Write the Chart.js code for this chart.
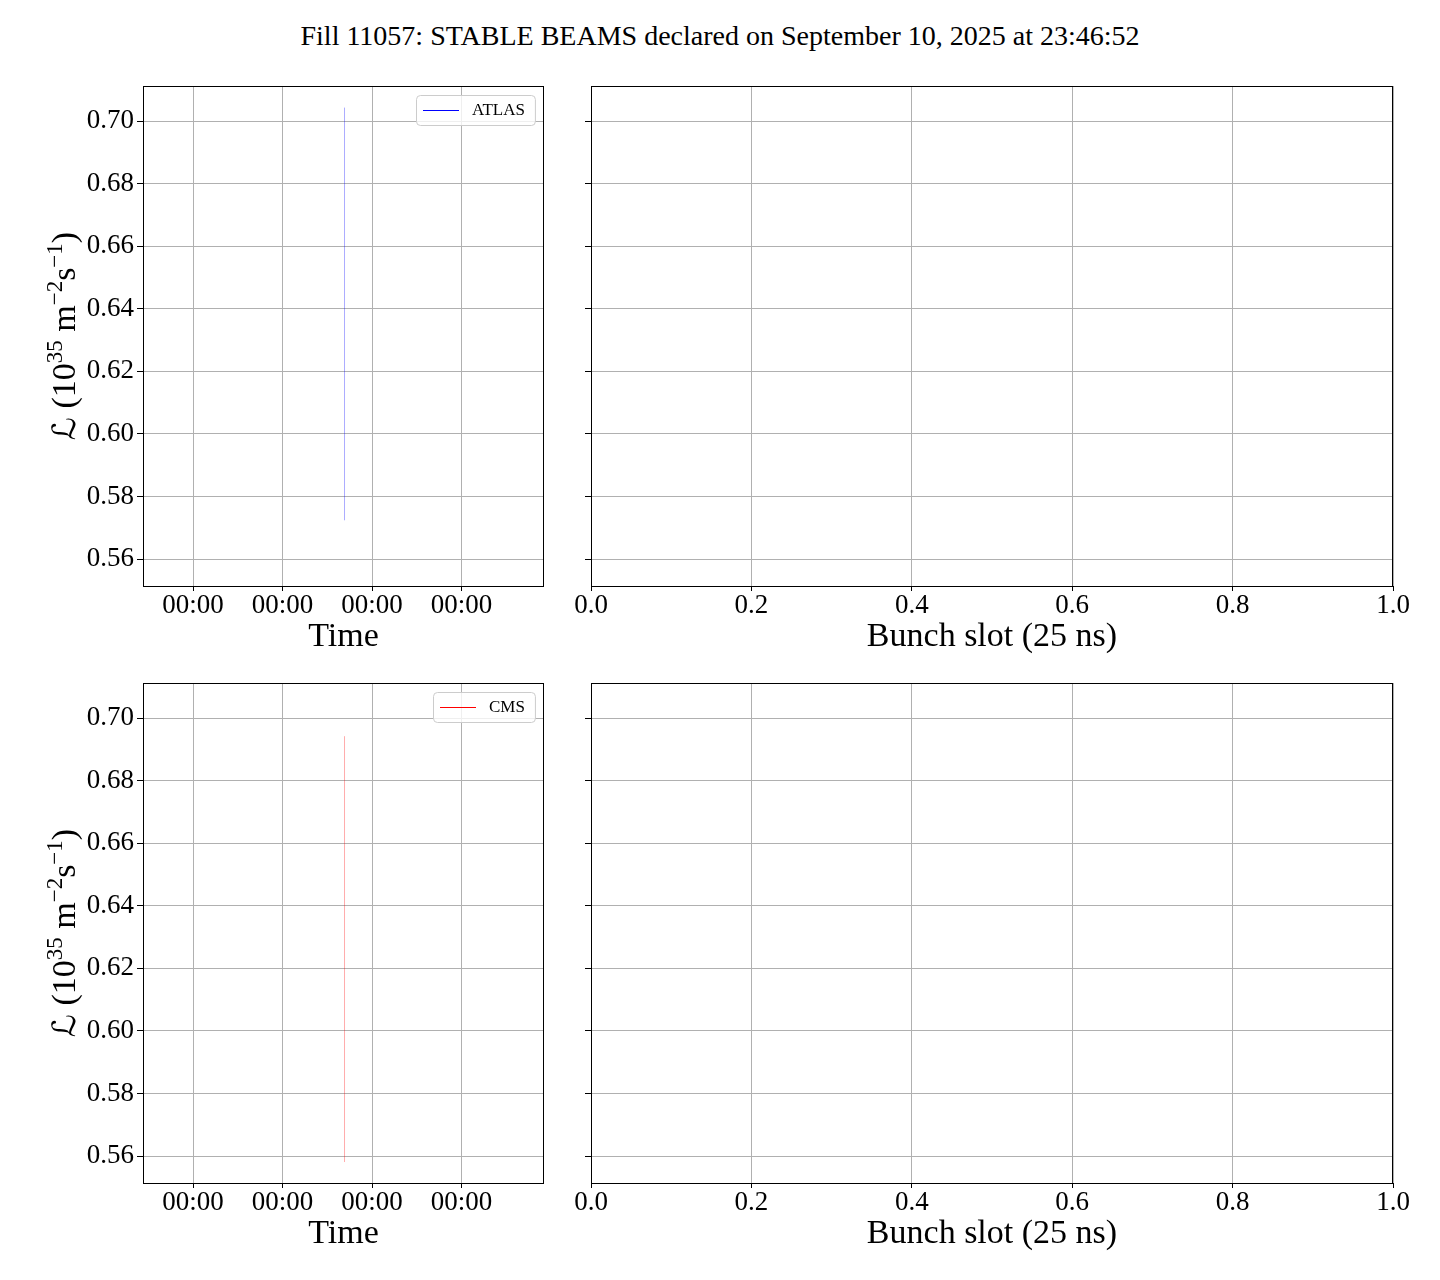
<!DOCTYPE html>
<html>
<head>
<meta charset="utf-8">
<script src="https://cdn.jsdelivr.net/npm/chart.js@4.4.1/dist/chart.umd.min.js"></script>
<style>
  body { margin: 0; background: #fff; }
  #page { position: relative; width: 1440px; height: 1280px; }
  #title { position: absolute; left: 0; top: 20px; width: 1440px; text-align: center;
           font-family: "Liberation Serif", serif; font-size: 28px; color: #000; }
  .panel { position: absolute; }
</style>
</head>
<body>
<div id="page">
  <div id="title">Fill 11057: STABLE BEAMS declared on September 10, 2025 at 23:46:52</div>
  <canvas class="panel" id="atlasTime" width="570" height="610" style="left:0;top:60px"></canvas>
  <canvas class="panel" id="atlasSlot" width="850" height="610" style="left:570px;top:60px"></canvas>
  <canvas class="panel" id="cmsTime" width="570" height="610" style="left:0;top:657px"></canvas>
  <canvas class="panel" id="cmsSlot" width="850" height="610" style="left:570px;top:657px"></canvas>
</div>
<script>
// data
const timeTicks = [1, 2, 3, 4];
const timeLabels = ['00:00', '00:00', '00:00', '00:00'];
const timeMin = 0.441;
const timeMax = 4.922;

const lumiTicks = [0.56, 0.58, 0.60, 0.62, 0.64, 0.66, 0.68, 0.70];
const lumiMin = 0.5514;
const lumiMax = 0.7112;

const slotTicks = [0, 0.2, 0.4, 0.6, 0.8, 1.0];

const atlasTimes = [2.693, 2.693];
const atlasLumi = [0.5724, 0.7043];
const cmsTimes = [2.693, 2.693];
const cmsLumi = [0.5581, 0.6942];

const SERIF = '"Liberation Serif", "Times New Roman", serif';
const GRID = '#b0b0b0';

// frame, axis titles and legend
const panelText = {
  id: 'panelText',
  afterDraw(chart, args, opts) {
    const ctx = chart.ctx;
    const a = chart.chartArea;
    ctx.save();
    ctx.strokeStyle = '#000';
    ctx.lineWidth = 1;
    ctx.strokeRect(Math.round(a.left) + 0.5, Math.round(a.top) + 0.5,
      Math.round(a.right - a.left) - 1, Math.round(a.bottom - a.top));

    // x title
    ctx.fillStyle = '#000';
    ctx.font = '34px ' + SERIF;
    ctx.textAlign = 'center';
    ctx.textBaseline = 'alphabetic';
    ctx.fillText(opts.xTitle, (a.left + a.right) / 2, a.bottom + 60);

    // y title with superscripts
    if (opts.yTitle) {
      const parts = [
        ['ℒ', '32px "DejaVu Sans", serif', 0],
        [' (10', '34px ' + SERIF, 0],
        ['35', '23px ' + SERIF, -13],
        [' m', '34px ' + SERIF, 0],
        ['−2', '23px ' + SERIF, -13],
        ['s', '34px ' + SERIF, 0],
        ['−1', '23px ' + SERIF, -13],
        [')', '34px ' + SERIF, 0]
      ];
      let total = 0;
      parts.forEach(p => { ctx.font = p[1]; total += ctx.measureText(p[0]).width; });
      ctx.translate(75, (a.top + a.bottom) / 2);
      ctx.rotate(-Math.PI / 2);
      ctx.textAlign = 'left';
      let x = -total / 2;
      parts.forEach(p => {
        ctx.font = p[1];
        ctx.fillText(p[0], x, p[2]);
        x += ctx.measureText(p[0]).width;
      });
      ctx.setTransform(1, 0, 0, 1, 0, 0);
    }

    // legend
    if (opts.legend) {
      ctx.font = '17px ' + SERIF;
      const tw = ctx.measureText(opts.legend.text).width;
      const w = 56 + tw + 10;
      const h = 30;
      const x0 = Math.round(a.right - 9 - w);
      const y0 = Math.round(a.top + 9);
      ctx.beginPath();
      ctx.roundRect(x0 + 0.5, y0 + 0.5, w, h, 4);
      ctx.fillStyle = 'rgba(255,255,255,0.8)';
      ctx.fill();
      ctx.strokeStyle = '#cccccc';
      ctx.stroke();
      ctx.beginPath();
      ctx.moveTo(x0 + 7, y0 + 15.5);
      ctx.lineTo(x0 + 43, y0 + 15.5);
      ctx.strokeStyle = opts.legend.color;
      ctx.lineWidth = 1.2;
      ctx.stroke();
      ctx.fillStyle = '#000';
      ctx.textBaseline = 'middle';
      ctx.fillText(opts.legend.text, x0 + 56, y0 + 16);
    }
    ctx.restore();
  }
};

function fixedTicks(values) {
  return function (scale) {
    scale.ticks = values.map(v => ({ value: v }));
  };
}

function yScale(showLabels, width) {
  return {
    type: 'linear',
    min: lumiMin,
    max: lumiMax,
    afterBuildTicks: fixedTicks(lumiTicks),
    afterFit: s => { s.width = width; },
    grid: { color: GRID, lineWidth: 1, tickLength: 6, tickColor: '#000', drawTicks: true },
    border: { display: false },
    ticks: {
      display: showLabels,
      color: '#000',
      padding: 3,
      font: { family: SERIF, size: 27 },
      callback: v => v.toFixed(2)
    }
  };
}

function makePanel(id, opts) {
  const isTime = opts.kind === 'time';
  const datasets = [];
  if (opts.xs) {
    datasets.push({
      label: opts.legend.text,
      data: opts.xs.map((x, i) => ({ x: x, y: opts.ys[i] })),
      borderColor: opts.lineColor,
      borderWidth: 1,
      pointRadius: 0,
      fill: false
    });
  }
  const xTicks = isTime ? timeTicks : slotTicks;
  return new Chart(document.getElementById(id), {
    type: 'line',
    data: { datasets: datasets },
    plugins: [panelText],
    options: {
      responsive: false,
      animation: false,
      layout: { padding: { top: 26, right: isTime ? 26 : 27, left: 0, bottom: 0 } },
      plugins: {
        legend: { display: false },
        tooltip: { enabled: false },
        panelText: { xTitle: opts.xTitle, yTitle: isTime, legend: opts.legend }
      },
      scales: {
        x: {
          type: 'linear',
          min: isTime ? timeMin : 0,
          max: isTime ? timeMax : 1,
          afterBuildTicks: fixedTicks(xTicks),
          afterFit: s => { s.height = 84; },
          grid: { color: GRID, lineWidth: 1, tickLength: 5, tickColor: '#000', drawTicks: true },
          border: { display: false },
          ticks: {
            color: '#000',
            padding: -1,
            maxRotation: 0,
            font: { family: SERIF, size: 27 },
            callback: (v, i) => isTime ? timeLabels[i] : v.toFixed(1)
          }
        },
        y: yScale(isTime, isTime ? 143 : 21)
      }
    }
  });
}

makePanel('atlasTime', {
  kind: 'time', xTitle: 'Time', xs: atlasTimes, ys: atlasLumi,
  lineColor: 'rgba(0,0,255,0.33)', legend: { text: 'ATLAS', color: '#0000ff' }
});
makePanel('atlasSlot', { kind: 'slot', xTitle: 'Bunch slot (25 ns)' });
makePanel('cmsTime', {
  kind: 'time', xTitle: 'Time', xs: cmsTimes, ys: cmsLumi,
  lineColor: 'rgba(255,0,0,0.33)', legend: { text: 'CMS', color: '#ff0000' }
});
makePanel('cmsSlot', { kind: 'slot', xTitle: 'Bunch slot (25 ns)' });
</script>
</body>
</html>
